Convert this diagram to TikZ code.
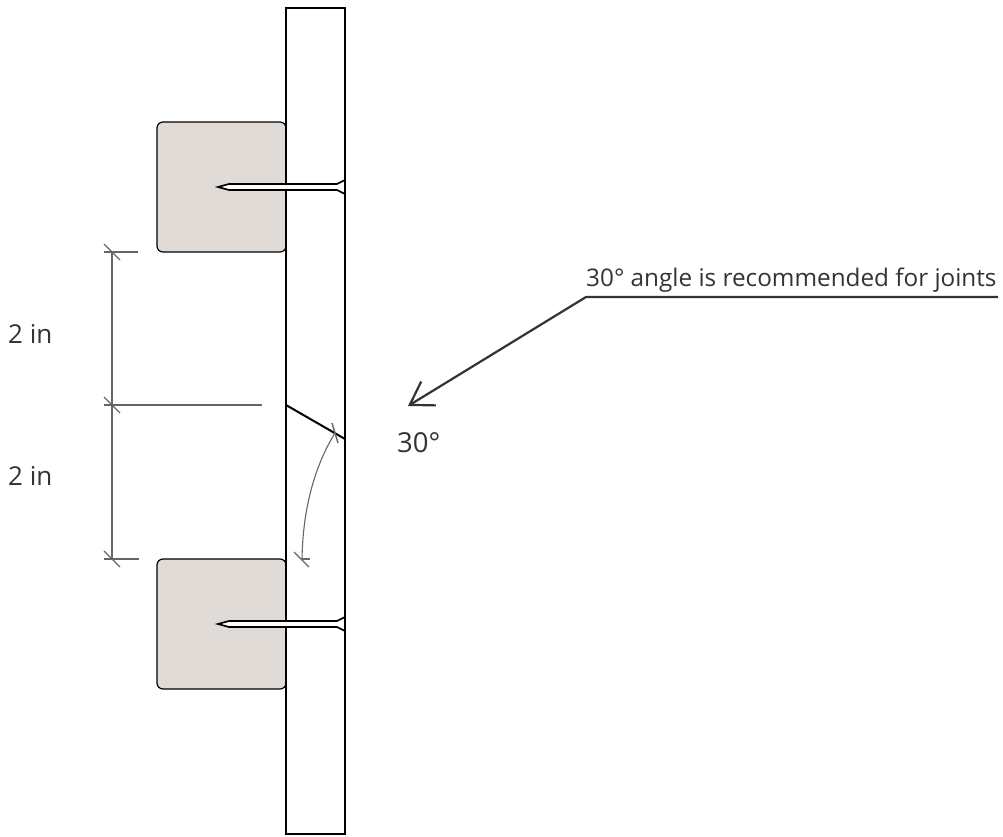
\documentclass[tikz,border=0pt]{standalone}
\usepackage{fontspec}
\setmainfont{Open Sans}
\usetikzlibrary{arrows.meta, positioning}
\definecolor{bloquecolor}{HTML}{E0DBD6}
\definecolor{cotacolor}{HTML}{666666}
\definecolor{textocolor}{HTML}{333333}
\tikzset{
    tabla/.style={draw=black, line width=1.2pt},
    junta/.style={draw=black, line width=2pt},
    bloque/.style={draw=black, fill=bloquecolor, line width=1.2pt, rounded corners=6pt},
    clavo/.style={draw=black, fill=white, line width=1.7pt, line join=miter},
    cota/.style={draw=cotacolor, line width=1.1pt},
    marca/.style={draw=cotacolor, line width=1.4pt},
    flecha/.style={draw=textocolor, line width=2.2pt},
    etiqueta/.style={anchor=base west, inner sep=0pt, text=textocolor}}
\newcommand{\clavo}[1]{
    \draw[clavo] (218,#1) -- (229,#1-3) -- (337,#1-3) -- (345,#1-7) -- (345,#1+7) -- (337,#1+3) -- (229,#1+3) -- cycle;}
\begin{document}
\begin{tikzpicture}[x=1pt, y=-1pt]
    \useasboundingbox (0,0) rectangle (1003,837);
    % Bloques
    \draw[bloque] (157,122) rectangle (286,252);
    \draw[bloque] (157,559) rectangle (286,689);
    % Tabla
    \draw[tabla] (286,8) rectangle (345,834);
    % Clavos
    \clavo{187}
    \clavo{624}
    % Junta
    \coordinate (j1) at (286,405);
    \coordinate (j2) at (345,439);
    \draw[junta] (j1) -- (j2);
    % Cotas
    \coordinate (sup) at (112,252);
    \coordinate (med) at (112,405);
    \coordinate (inf) at (112,559);
    \draw[cota] (sup) -- (med) -- (inf);
    \draw[cota] (104,252) -- (138,252);
    \draw[cota] (104,405) -- (262,405);
    \draw[cota] (104,559) -- (139,559);
    \foreach \y in {252,405,559}
        \draw[marca] (104,\y-8) -- (120,\y+8);
    % Angulo
    \coordinate (a1) at (335,433);
    \coordinate (a2) at (302,559);
    \draw[cota] (a1) .. controls (316,464) and (303,505) .. (a2);
    \draw[marca] (332,423) -- (338,443);
    \draw[marca] (294,552) -- (309,567);
    \draw[cota] (302,559) -- (310,559);
    % Textos
    \node[etiqueta, font=\fontsize{26}{26}\selectfont] (t1) at (8,343) {2 in};
    \node[etiqueta, font=\fontsize{26}{26}\selectfont] (t2) at (8,485) {2 in};
    \node[etiqueta, font=\fontsize{27.5}{27.5}\selectfont] (ang) at (397,452) {30°};
    \node[etiqueta, font=\fontsize{24.3}{24.3}\selectfont] (nota) at (586,286) {30° angle is recommended for joints};
    % Flecha
    \coordinate (g1) at (998,297);
    \coordinate (g2) at (586,297);
    \coordinate (g3) at (408,406);
    \draw[flecha, -{Straight Barb[length=22pt, width=28pt]}] (g1) -- (g2) -- (g3);
\end{tikzpicture}
\end{document}
